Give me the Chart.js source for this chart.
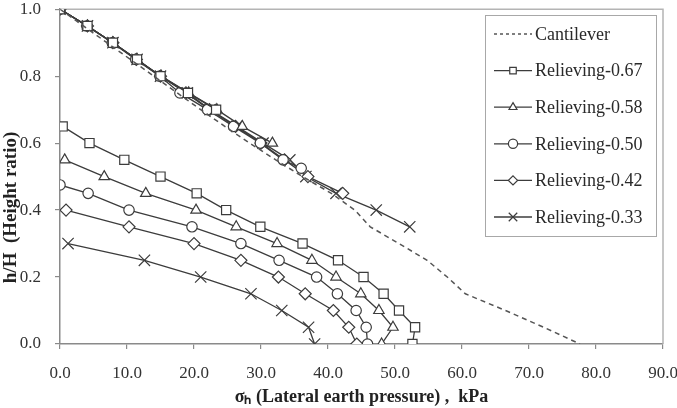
<!DOCTYPE html>
<html>
<head>
<meta charset="utf-8">
<script src="https://cdn.jsdelivr.net/npm/chart.js@4.4.1/dist/chart.umd.min.js"></script>
<style>
  html, body { margin: 0; padding: 0; background: #ffffff; }
  #wrap { width: 677px; height: 408px; }
</style>
</head>
<body>
<div id="wrap"><canvas id="c" width="677" height="408"></canvas></div>
<script>
// ---- data ----
const seriesLabels = ['Cantilever', 'Relieving-0.67', 'Relieving-0.58', 'Relieving-0.50', 'Relieving-0.42', 'Relieving-0.33'];
const xTicks = [0, 10, 20, 30, 40, 50, 60, 70, 80, 90];
const yTicks = [0.0, 0.2, 0.4, 0.6, 0.8, 1.0];

const cantY = [1.0, 0.95, 0.90, 0.85, 0.80, 0.75, 0.70, 0.65, 0.60, 0.55, 0.50, 0.45, 0.40, 0.35, 0.30, 0.25, 0.20, 0.15, 0.10, 0.05, 0.0];
const cantX = [0, 3.5, 7.0, 10.5, 14.0, 17.5, 21.0, 24.6, 28.3, 32.2, 36.2, 40.5, 44.0, 46.3, 50.6, 54.8, 57.8, 60.5, 66.5, 72.2, 77.6];

const r067UpperY = [1.0, 0.95, 0.90, 0.85, 0.80, 0.75, 0.70];
const r067UpperX = [0, 4.1, 7.9, 11.5, 15.0, 19.1, 23.3];
const r067LowerY = [0.65, 0.60, 0.55, 0.50, 0.45, 0.40, 0.35, 0.30, 0.25, 0.20, 0.15, 0.10, 0.05, 0.0];
const r067LowerX = [0.4, 4.4, 9.6, 15.0, 20.4, 24.8, 29.9, 36.2, 41.5, 45.3, 48.3, 50.6, 53.0, 52.6];

const r058UpperY = [1.0, 0.95, 0.90, 0.85, 0.80, 0.75, 0.70, 0.65, 0.60];
const r058UpperX = [0, 4.1, 7.9, 11.5, 15.1, 19.2, 23.4, 27.2, 31.7];
const r058LowerY = [0.55, 0.50, 0.45, 0.40, 0.35, 0.30, 0.25, 0.20, 0.15, 0.10, 0.05, 0.0];
const r058LowerX = [0.7, 6.6, 12.8, 20.3, 26.3, 32.4, 37.6, 41.2, 44.9, 47.6, 49.7, 48.0];

const r050UpperY = [1.0, 0.95, 0.90, 0.85, 0.80, 0.75, 0.70, 0.65, 0.60, 0.55, 0.525];
const r050UpperX = [0, 4.0, 7.8, 11.3, 14.9, 17.9, 22.0, 25.9, 29.9, 33.3, 36.0];
const r050LowerY = [0.475, 0.45, 0.40, 0.35, 0.30, 0.25, 0.20, 0.15, 0.10, 0.05, 0.0];
const r050LowerX = [0.0, 4.2, 10.3, 19.7, 27.0, 32.7, 38.3, 41.4, 44.2, 45.7, 45.9];

const r042UpperY = [1.0, 0.95, 0.90, 0.85, 0.80, 0.75, 0.70, 0.65, 0.60, 0.55, 0.50, 0.45];
const r042UpperX = [0, 4.1, 7.9, 11.4, 15.0, 18.8, 22.3, 26.2, 30.0, 33.5, 37.0, 42.2];
const r042LowerY = [0.40, 0.35, 0.30, 0.25, 0.20, 0.15, 0.10, 0.05, 0.0];
const r042LowerX = [0.9, 10.3, 20.0, 27.0, 32.6, 36.6, 40.8, 43.1, 44.3];

const r033UpperY = [1.0, 0.95, 0.90, 0.85, 0.80, 0.75, 0.70, 0.65, 0.60, 0.55, 0.50, 0.45, 0.40, 0.35];
const r033UpperX = [0, 4.1, 7.9, 11.5, 15.0, 19.0, 22.4, 26.4, 30.3, 34.3, 36.7, 41.2, 47.2, 52.2];
const r033LowerY = [0.30, 0.25, 0.20, 0.15, 0.10, 0.05, 0.0];
const r033LowerX = [1.2, 12.6, 21.0, 28.5, 33.1, 37.1, 38.0];

// ---- build point lists (upper wall part, gap, lower part) ----
function pts(xs, ys) { return xs.map((x, i) => ({ x: x, y: ys[i] })); }
function twoPart(ux, uy, lx, ly) { return pts(ux, uy).concat([{ x: null, y: null }], pts(lx, ly)); }

const LINE = '#3c3c3c';
const MARK = '#3c3c3c';

function relieving(label, data, style, radius, rotation) {
  return {
    label: label, data: data,
    borderColor: LINE, borderWidth: 1.3,
    pointStyle: style, pointRadius: radius, pointRotation: rotation || 0,
    pointBackgroundColor: '#ffffff', pointBorderColor: MARK, pointBorderWidth: 1.2,
    pointHoverRadius: radius, spanGaps: false, tension: 0, fill: false
  };
}

const datasets = [
  {
    label: seriesLabels[0], data: pts(cantX, cantY),
    borderColor: '#555555', borderWidth: 1.5, borderDash: [5, 4],
    pointRadius: 0, pointHoverRadius: 0, tension: 0, fill: false
  },
  relieving(seriesLabels[1], twoPart(r067UpperX, r067UpperY, r067LowerX, r067LowerY), 'rect', 6.5),
  relieving(seriesLabels[2], twoPart(r058UpperX, r058UpperY, r058LowerX, r058LowerY), 'triangle', 6),
  relieving(seriesLabels[3], twoPart(r050UpperX, r050UpperY, r050LowerX, r050LowerY), 'circle', 5.2),
  relieving(seriesLabels[4], twoPart(r042UpperX, r042UpperY, r042LowerX, r042LowerY), 'rectRot', 6),
  relieving(seriesLabels[5], twoPart(r033UpperX, r033UpperY, r033LowerX, r033LowerY), 'crossRot', 8)
];

// ---- plugin: grey border on top/right of plot area and the in-plot legend ----
const framePlugin = {
  id: 'frame',
  beforeDatasetsDraw(chart) {
    const { ctx, chartArea: a } = chart;
    ctx.save();
    ctx.strokeStyle = '#b4b4b4';
    ctx.lineWidth = 1.5;
    ctx.beginPath();
    ctx.moveTo(a.left, a.top);
    ctx.lineTo(a.right, a.top);
    ctx.lineTo(a.right, a.bottom);
    ctx.stroke();
    ctx.restore();
  },
  afterDatasetsDraw(chart) {
    const ctx = chart.ctx;
    const box = { l: 485, t: 15, r: 656, b: 236 };
    ctx.save();
    ctx.fillStyle = '#ffffff';
    ctx.fillRect(box.l, box.t, box.r - box.l, box.b - box.t);
    ctx.strokeStyle = '#a8a8a8';
    ctx.lineWidth = 1;
    ctx.strokeRect(box.l + 0.5, box.t + 0.5, box.r - box.l, box.b - box.t);
    const rowY0 = 34, rowStep = 36.6;
    const sx0 = 494, sx1 = 532, tx = 535;
    ctx.font = '18px "Liberation Serif", "Times New Roman", serif';
    ctx.textBaseline = 'middle';
    ctx.textAlign = 'left';
    chart.data.datasets.forEach((ds, i) => {
      const y = rowY0 + i * rowStep;
      ctx.save();
      ctx.strokeStyle = ds.borderColor;
      ctx.lineWidth = ds.borderWidth;
      if (ds.borderDash) ctx.setLineDash([3, 3]);
      ctx.beginPath();
      ctx.moveTo(sx0, y);
      ctx.lineTo(sx1, y);
      ctx.stroke();
      ctx.restore();
      if (ds.pointRadius > 0) {
        ctx.save();
        ctx.fillStyle = '#ffffff';
        ctx.strokeStyle = MARK;
        ctx.lineWidth = 1.2;
        const r = ds.pointStyle === 'crossRot' ? 6 : 4.6;
        Chart.helpers.drawPoint(ctx, { pointStyle: ds.pointStyle, rotation: 0, radius: r, borderWidth: 1.2 }, (sx0 + sx1) / 2, y);
        ctx.restore();
      }
      ctx.fillStyle = '#2a2a2a';
      ctx.fillText(ds.label, tx, y + 1);
    });
    ctx.restore();
  }
};

const tickFont = { family: '"Liberation Serif", "Times New Roman", serif', size: 17 };
const titleFont = { family: '"Liberation Serif", "Times New Roman", serif', size: 19, weight: 'bold' };

new Chart(document.getElementById('c'), {
  type: 'line',
  data: { datasets: datasets },
  options: {
    responsive: false,
    animation: false,
    events: [],
    layout: { padding: { top: 7, right: 14, bottom: 0, left: 0 } },
    plugins: { legend: { display: false }, tooltip: { enabled: false } },
    scales: {
      x: {
        type: 'linear', min: 0, max: 90,
        afterBuildTicks(scale) { scale.ticks = xTicks.map(v => ({ value: v })); },
        afterFit(scale) { scale.height = 64; scale.paddingLeft = 0; scale.paddingRight = 0; },
        ticks: { font: tickFont, color: '#333333', padding: 14, maxRotation: 0, autoSkip: false,
                 callback: v => Number(v).toFixed(1) },
        grid: { drawOnChartArea: false, drawTicks: true, tickLength: 5, color: '#8a8a8a', lineWidth: 1.2 },
        border: { color: '#8a8a8a', width: 1.5 },
        title: { display: true, text: 'σₕ (Lateral earth pressure) ,  kPa', font: { ...titleFont, size: 18 }, color: '#222222', padding: 0 }
      },
      y: {
        type: 'linear', min: 0, max: 1,
        afterBuildTicks(scale) { scale.ticks = yTicks.map(v => ({ value: v })); },
        afterFit(scale) { scale.width = 60; scale.paddingTop = 0; scale.paddingBottom = 0; },
        ticks: { font: tickFont, color: '#333333', padding: 14, autoSkip: false,
                 callback: v => Number(v).toFixed(1) },
        grid: { drawOnChartArea: false, drawTicks: true, tickLength: 5, color: '#8a8a8a', lineWidth: 1.2 },
        border: { color: '#8a8a8a', width: 1.5 },
        title: { display: true, text: 'h/H  (Height ratio)             ', font: titleFont, color: '#222222', padding: 0 }
      }
    }
  },
  plugins: [framePlugin]
});
</script>
</body>
</html>
